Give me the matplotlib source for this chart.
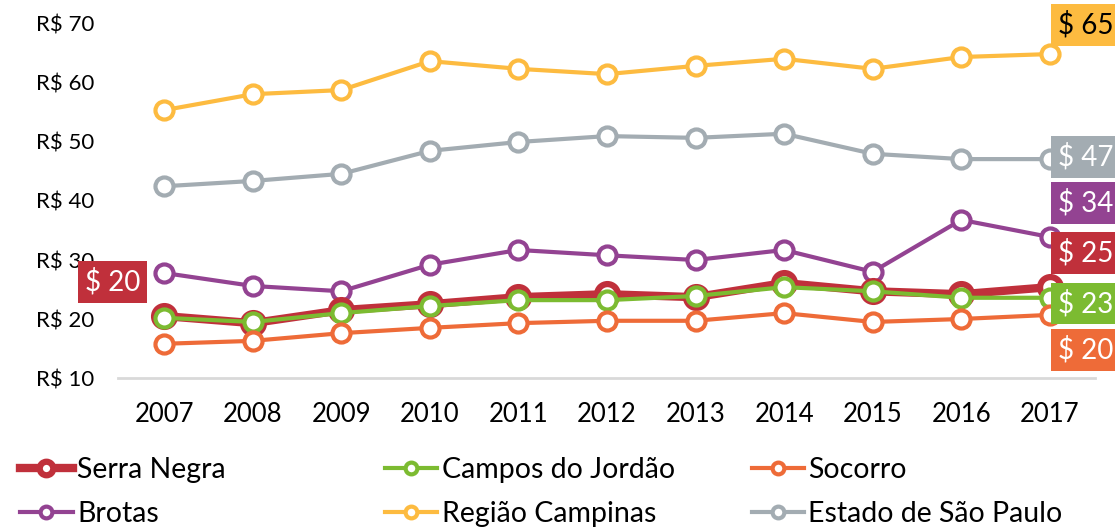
import matplotlib.pyplot as plt

plt.rcParams['font.family'] = ['Lato', 'DejaVu Sans']

years = [2007, 2008, 2009, 2010, 2011, 2012, 2013, 2014, 2015, 2016, 2017]

serra_negra = [20.5, 19.3, 21.5, 22.5, 23.7, 24.2, 23.7, 26.1, 24.7, 24.2, 25.4]
campos_jordao = [20.2, 19.5, 21.0, 22.2, 23.2, 23.2, 23.9, 25.4, 24.7, 23.6, 23.6]
socorro = [15.8, 16.3, 17.6, 18.5, 19.3, 19.7, 19.7, 21.0, 19.5, 20.0, 20.7]
brotas = [27.8, 25.6, 24.7, 29.2, 31.7, 30.8, 30.0, 31.7, 28.0, 36.8, 33.9]
regiao_campinas = [55.4, 58.1, 58.8, 63.7, 62.4, 61.5, 62.9, 64.1, 62.4, 64.4, 64.9]
estado_sp = [42.5, 43.4, 44.6, 48.5, 50.0, 51.0, 50.7, 51.4, 48.0, 47.1, 47.1]

yticks = [10, 20, 30, 40, 50, 60, 70]

RED = '#C0303B'
GREEN = '#7CBB31'
ORANGE = '#EE6B38'
PURPLE = '#934392'
YELLOW = '#FDBB40'
GRAY = '#A3ACB2'

fig = plt.figure(figsize=(11.15, 5.27), dpi=100)
ax = fig.add_axes([0.106, 0.2827, 0.876, 0.6718])

# (data, label, colour, linewidth, markersize, end label, label offset px, text colour)
series = [
    (regiao_campinas, 'Região Campinas', YELLOW, 3, 13, '$ 65', 29, 'black'),
    (estado_sp, 'Estado de São Paulo', GRAY, 3, 13, '$ 47', 2, 'white'),
    (brotas, 'Brotas', PURPLE, 3, 13, '$ 34', 34, 'white'),
    (serra_negra, 'Serra Negra', RED, 6, 15, '$ 25', 34, 'white'),
    (campos_jordao, 'Campos do Jordão', GREEN, 3, 13, '$ 23', -6, 'white'),
    (socorro, 'Socorro', ORANGE, 3, 13, '$ 20', -35, 'white'),
]

handles = {}
for data, label, color, lw, ms, end_label, dy, tcolor in series:
    line, = ax.plot(years, data, color=color, lw=lw, marker='o', ms=ms,
                    mfc='white', mec=color, mew=3 if lw < 5 else 4.5,
                    label=label, clip_on=False)
    handles[label] = line
    ax.annotate(end_label, (years[-1], data[-1]), xytext=(8, dy),
                textcoords='offset pixels', ha='left', va='center',
                fontsize=20, color=tcolor, annotation_clip=False,
                bbox=dict(boxstyle='square,pad=0.25', fc=color, ec='none'))

# first-year label for Serra Negra
ax.annotate('$ 20', (years[0], serra_negra[0]), xytext=(-52, 34),
            textcoords='offset pixels', ha='center', va='center',
            fontsize=20, color='white', annotation_clip=False,
            bbox=dict(boxstyle='square,pad=0.25', fc=RED, ec='none'))

ax.set_xlim(2006.48, 2017.51)
ax.set_ylim(10, 70)
ax.set_xticks(years)
ax.set_yticks(yticks)
ax.set_yticklabels(['R$ %d' % v for v in yticks])
for s in ['top', 'right', 'left']:
    ax.spines[s].set_visible(False)
ax.spines['bottom'].set_color('#D9D9D9')
ax.spines['bottom'].set_linewidth(2)
ax.tick_params(axis='x', length=0, pad=17, labelsize=18.5)
ax.tick_params(axis='y', length=0, pad=17, labelsize=16)

# legend in three columns, each placed on its own
columns = [
    (['Serra Negra', 'Brotas'], 0.018),
    (['Campos do Jordão', 'Região Campinas'], 0.345),
    (['Socorro', 'Estado de São Paulo'], 0.674),
]
for names, x0 in columns:
    fig.legend([handles[k] for k in names], names, loc='upper left',
               bbox_to_anchor=(x0, 0.133), frameon=False, fontsize=20.5,
               handlelength=1.85, handletextpad=0.15, borderpad=0,
               labelspacing=0.65, borderaxespad=0, markerscale=0.65)

fig.savefig('out.png', dpi=100)
